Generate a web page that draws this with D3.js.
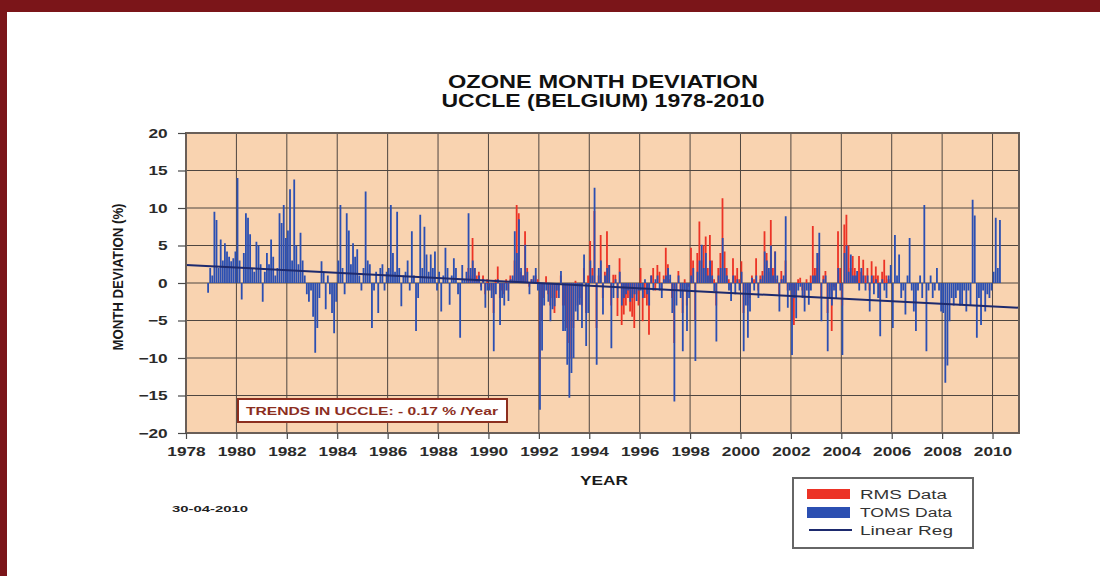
<!DOCTYPE html>
<html>
<head>
<meta charset="utf-8">
<script src="https://cdn.jsdelivr.net/npm/d3@7"></script>
<style>
  body { margin: 0; background: #fff; }
  svg { display: block; font-family: "Liberation Sans", Arial, sans-serif; }
</style>
</head>
<body>
<script>
// monthly deviations (%), one row per year, Jan..Dec
var tomsStartYear = 1978;
var tomsByYear = [
  [null,null,null,null,null,null,null,null,null,null,-1.3,2.0],
  [1.0,9.5,8.4,2.0,5.8,3.0,5.3,4.2,3.5,2.9,3.3,4.2],
  [14.0,3.0,-2.2,4.0,9.3,8.7,6.5,2.0,1.5,5.5,5.0,2.5],
  [-2.5,1.5,4.0,2.5,5.8,3.5,1.0,2.0,9.3,8.0,10.4,6.0],
  [7.0,12.5,3.0,13.8,5.0,2.5,6.7,3.0,1.0,-1.5,-2.5,-1.0],
  [-4.5,-9.3,-6.0,-2.0,2.9,1.5,-3.5,1.0,-1.5,-4.0,-6.7,-2.5],
  [3.0,10.4,2.0,-1.5,9.3,7.0,2.5,5.3,3.5,4.5,1.0,-1.0],
  [2.0,12.2,3.0,2.5,-6.0,-1.0,1.5,-4.0,2.0,2.5,-1.0,1.5],
  [2.0,10.4,4.0,1.5,9.5,2.0,-3.1,1.0,1.5,3.0,-1.0,6.9],
  [1.0,-6.4,-2.0,9.1,2.0,7.5,3.8,1.5,3.8,2.0,4.2,-1.0],
  [1.5,-3.8,1.0,4.7,2.0,-2.9,1.0,3.3,2.0,-1.5,-7.3,2.4],
  [0.5,1.5,9.3,2.0,3.0,2.0,0.5,1.0,-1.0,0.5,-3.3,-1.0],
  [-1.0,-2.0,-9.1,-1.5,0.5,-5.6,-2.0,-3.0,-1.0,-2.4,0.5,1.0],
  [6.9,4.0,8.5,2.0,1.0,5.1,1.5,-1.5,0.5,1.0,2.0,-1.0],
  [-16.9,-9.0,-3.0,-1.0,-2.5,-5.1,-3.5,-3.1,-1.0,-2.0,1.6,-6.4],
  [-6.4,-10.9,-15.3,-12.0,-10.0,-3.8,-5.0,-2.9,-6.0,3.8,-8.4,-4.0],
  [3.0,1.0,12.7,-10.9,2.0,3.0,-4.2,1.0,2.0,2.4,-8.7,-2.0],
  [0.5,-2.0,1.5,-3.0,-2.0,-1.5,-1.0,-2.5,-2.0,-1.5,-2.4,-1.0],
  [-1.0,-2.0,0.5,-1.5,-3.0,1.0,-1.0,0.5,1.0,-1.0,-2.0,0.5],
  [1.0,2.0,1.1,-4.0,-15.8,-3.0,1.0,-2.0,-9.1,-1.0,-6.4,-2.0],
  [1.0,2.0,-10.4,1.5,3.0,5.1,2.0,4.0,1.0,3.0,1.0,-1.1],
  [-7.8,1.0,2.0,6.0,2.0,1.0,-1.0,-2.4,1.0,-1.5,0.5,-1.0],
  [1.5,-9.1,-3.0,-7.3,-3.8,0.7,-1.0,1.0,-2.0,0.5,1.0,4.2],
  [3.0,2.0,5.0,1.0,4.2,1.0,-3.8,0.5,1.0,8.9,-3.3,-1.0],
  [-9.6,-2.0,-4.7,-1.0,-0.5,-2.0,-3.8,-1.0,-2.9,-1.0,1.0,1.0],
  [4.0,6.7,-5.1,0.5,1.0,-9.1,-2.0,-3.0,-1.0,-2.0,2.0,-1.0],
  [-9.6,4.0,5.0,1.5,3.8,1.0,1.0,1.6,-1.0,2.0,1.0,-1.0],
  [1.0,-3.8,1.0,-1.5,0.5,-2.0,-7.1,0.5,-1.0,-2.0,1.0,2.4],
  [-6.0,6.4,1.0,3.8,-2.0,-1.0,-4.2,1.0,6.0,-1.0,-3.8,-6.4],
  [-1.0,1.0,-2.0,10.4,-9.1,-1.0,1.0,-2.0,-1.0,2.0,-1.0,-3.8],
  [-4.0,-13.3,-11.0,-5.1,-2.0,-3.0,-2.0,-1.0,-3.0,-2.9,-1.0,-3.8],
  [-1.0,-3.0,11.1,9.0,-7.3,-2.0,-5.6,-1.0,-3.8,-1.5,-2.0,-1.0],
  [1.5,8.7,2.0,8.4]
];

var rmsStartYear = 1989;
var rmsByYear = [
  [null,null,2.0,1.0,6.0,2.0,1.0,1.5,-0.5,1.0,-1.5,0.5],
  [-0.5,-1.0,-4.0,0.5,2.2,-2.0,-1.0,-1.5,0.5,-1.0,1.0,0.5],
  [3.0,10.4,9.3,1.5,1.0,6.9,2.0,-0.5,0.5,0.5,1.0,0.5],
  [-11.6,-5.0,-2.0,0.9,-1.5,-3.0,-2.0,-4.0,-2.0,-1.0,1.0,-3.0],
  [-3.0,-6.0,-8.0,-10.0,-6.0,0.3,-3.0,-2.0,-3.0,2.0,-4.0,1.0],
  [5.6,2.0,9.6,-6.0,1.0,6.4,-2.0,1.5,6.9,2.4,-3.0,1.1],
  [1.1,-4.4,3.3,-5.6,-4.2,-3.0,-2.0,-3.8,-4.5,-6.0,-1.5,-3.0],
  [2.0,-5.1,-2.0,-3.0,-6.9,1.0,2.0,-1.0,2.4,1.5,-1.0,1.0],
  [4.7,2.5,0.5,-2.0,-8.0,-1.0,1.6,-1.0,-4.0,0.5,-3.0,-0.5],
  [4.7,3.0,-5.0,4.0,8.2,3.0,5.0,6.2,2.0,6.4,3.0,0.5],
  [-3.0,2.0,4.0,11.3,4.2,2.0,0.5,-1.0,3.3,1.0,2.0,0.5],
  [2.9,-4.0,-1.0,-3.0,-2.0,1.0,0.5,3.3,-1.0,1.0,1.6,6.9],
  [4.0,1.5,8.4,2.0,4.2,0.5,-1.5,1.6,0.5,3.0,-1.0,-0.5],
  [-5.0,-5.6,-2.0,0.5,0.7,-1.0,-2.0,0.5,-1.0,1.0,7.6,2.0],
  [2.0,4.0,-2.0,1.0,1.6,-4.0,-1.0,-6.4,-0.5,-1.0,6.9,2.0],
  [-3.0,7.8,9.1,5.0,2.0,3.6,2.0,1.0,3.6,1.5,3.1,1.0],
  [2.0,-1.0,2.9,1.0,2.2,1.0,-2.0,1.5,3.1,1.0,0.5,0.5]
];

// linear regression end points
var regYears = [1978, 2011.05];
var regValues = [2.4, -3.3];

var xTicks = [1978,1980,1982,1984,1986,1988,1990,1992,1994,1996,1998,2000,2002,2004,2006,2008,2010];
var yTicks = [-20,-15,-10,-5,0,5,10,15,20];

var legendLabels = ["RMS Data", "TOMS Data", "Linear Reg"];

function init() {
    var w = 1100;
    var h = 576;
    var left = 186, right = 1019, top = 133, bottom = 433;
    var sx = 1.38; // text in the picture is stretched sideways

    var svg = d3.select("body").append("svg")
                .attr("width", w)
                .attr("height", h);

    // dark red frame
    svg.append("rect").attr("x", 0).attr("y", 0).attr("width", w).attr("height", 12).attr("fill", "#7b1519");
    svg.append("rect").attr("x", 0).attr("y", 0).attr("width", 7).attr("height", h).attr("fill", "#7b1519");

    var x = d3.scaleLinear().domain([1978, 2011.05]).range([left, right]);
    var y = d3.scaleLinear().domain([-20, 20]).range([bottom, top]);

    svg.append("rect")
        .attr("x", left).attr("y", top)
        .attr("width", right - left).attr("height", bottom - top)
        .attr("fill", "#f9d3b0");

    // grid
    svg.append("g").selectAll("line")
        .data(yTicks)
        .enter().append("line")
        .attr("x1", left).attr("x2", right)
        .attr("y1", function(d){ return y(d); })
        .attr("y2", function(d){ return y(d); })
        .attr("stroke", "#4f4640").attr("stroke-width", 1);
    svg.append("g").selectAll("line")
        .data(xTicks.slice(1))
        .enter().append("line")
        .attr("x1", function(d){ return x(d); })
        .attr("x2", function(d){ return x(d); })
        .attr("y1", top).attr("y2", bottom)
        .attr("stroke", "#4f4640").attr("stroke-width", 1);

    // flatten month rows
    function flatten(rows, startYear) {
        var out = [];
        rows.forEach(function(row, i) {
            row.forEach(function(v, m) {
                if (v !== null) out.push({ t: startYear + i + m / 12, v: v });
            });
        });
        return out;
    }
    var rms = flatten(rmsByYear, rmsStartYear);
    var toms = flatten(tomsByYear, tomsStartYear);

    function drawBars(data, color, offset) {
        svg.append("g").selectAll("rect")
            .data(data)
            .enter().append("rect")
            .attr("x", function(d){ return x(d.t) + offset; })
            .attr("width", 1.8)
            .attr("y", function(d){ return y(Math.max(0, d.v)); })
            .attr("height", function(d){ return Math.abs(y(d.v) - y(0)); })
            .attr("fill", color);
    }
    drawBars(rms, "#ec3326", 0);
    drawBars(toms, "#2b4fb2", 0.2);

    // regression
    svg.append("line")
        .attr("x1", x(regYears[0])).attr("y1", y(regValues[0]))
        .attr("x2", x(regYears[1])).attr("y2", y(regValues[1]))
        .attr("stroke", "#1d2a6e").attr("stroke-width", 2);

    // frame of plot
    svg.append("rect")
        .attr("x", left).attr("y", top)
        .attr("width", right - left).attr("height", bottom - top)
        .attr("fill", "none")
        .attr("stroke", "#6a5f58").attr("stroke-width", 2);

    // axes
    var yAxis = svg.append("g")
        .attr("transform", "translate(" + left + ",0)")
        .call(d3.axisLeft(y).tickValues(yTicks).tickSize(8).tickPadding(5).tickFormat(d3.format("d")));
    var xAxis = svg.append("g")
        .attr("transform", "translate(0," + bottom + ")")
        .call(d3.axisBottom(x).tickValues(xTicks).tickSize(6).tickPadding(8).tickFormat(d3.format("d")));
    [yAxis, xAxis].forEach(function(a) {
        a.select(".domain").remove();
        a.selectAll("line").attr("stroke", "#4a4a4a").attr("stroke-width", 1.2);
        a.selectAll("text")
            .attr("fill", "#2a2a2a")
            .style("font-size", "12.5px")
            .style("font-weight", "bold")
            .attr("transform", "scale(" + sx + ",1)");
    });
    yAxis.selectAll("text").attr("x", -13.3);

    // titles
    svg.append("text").attr("x", 603).attr("y", 88)
        .attr("text-anchor", "middle").attr("textLength", 310).attr("lengthAdjust", "spacingAndGlyphs")
        .style("font-size", "18px").style("font-weight", "bold").attr("fill", "#111")
        .text("OZONE MONTH DEVIATION");
    svg.append("text").attr("x", 603).attr("y", 107)
        .attr("text-anchor", "middle").attr("textLength", 323).attr("lengthAdjust", "spacingAndGlyphs")
        .style("font-size", "18px").style("font-weight", "bold").attr("fill", "#111")
        .text("UCCLE (BELGIUM) 1978-2010");

    svg.append("text")
        .attr("transform", "translate(123,277) rotate(-90) scale(1,1.35)")
        .attr("text-anchor", "middle").attr("textLength", 147).attr("lengthAdjust", "spacingAndGlyphs")
        .style("font-size", "11.5px").style("font-weight", "bold").attr("fill", "#1a1a1a")
        .text("MONTH DEVIATION (%)");

    svg.append("text").attr("x", 604).attr("y", 485)
        .attr("text-anchor", "middle").attr("textLength", 48).attr("lengthAdjust", "spacingAndGlyphs")
        .style("font-size", "13px").style("font-weight", "bold").attr("fill", "#1a1a1a")
        .text("YEAR");

    // trend box
    svg.append("rect")
        .attr("x", 238).attr("y", 399).attr("width", 269).attr("height", 23)
        .attr("fill", "#fff").attr("stroke", "#8c2e1e").attr("stroke-width", 2);
    svg.append("text").attr("x", 372).attr("y", 415)
        .attr("text-anchor", "middle").attr("textLength", 252).attr("lengthAdjust", "spacingAndGlyphs")
        .style("font-size", "11px").style("font-weight", "bold").attr("fill", "#8c2e1e")
        .text("TRENDS IN UCCLE: - 0.17 % /Year");

    // date
    svg.append("text").attr("x", 172).attr("y", 512)
        .attr("textLength", 76).attr("lengthAdjust", "spacingAndGlyphs")
        .style("font-size", "9.5px").style("font-weight", "bold").attr("fill", "#222")
        .text("30-04-2010");

    // legend
    var lg = svg.append("g");
    lg.append("rect").attr("x", 793).attr("y", 478).attr("width", 180).attr("height", 70)
        .attr("fill", "#fff").attr("stroke", "#666").attr("stroke-width", 2);
    lg.append("rect").attr("x", 807).attr("y", 489).attr("width", 43).attr("height", 10).attr("fill", "#ec3326");
    lg.append("rect").attr("x", 807).attr("y", 507).attr("width", 43).attr("height", 11).attr("fill", "#2b4fb2");
    lg.append("line").attr("x1", 809).attr("x2", 852).attr("y1", 530).attr("y2", 530)
        .attr("stroke", "#1d2a6e").attr("stroke-width", 2);
    var lgWidths = [87, 92, 93];
    lg.selectAll("text.lab")
        .data(legendLabels)
        .enter().append("text")
        .attr("class", "lab")
        .attr("x", 860)
        .attr("y", function(d, i){ return 499 + i * 18; })
        .attr("textLength", function(d, i){ return lgWidths[i]; })
        .attr("lengthAdjust", "spacingAndGlyphs")
        .style("font-size", "12.5px").attr("fill", "#333")
        .text(function(d){ return d; });
}

window.onload = init;
</script>
</body>
</html>
